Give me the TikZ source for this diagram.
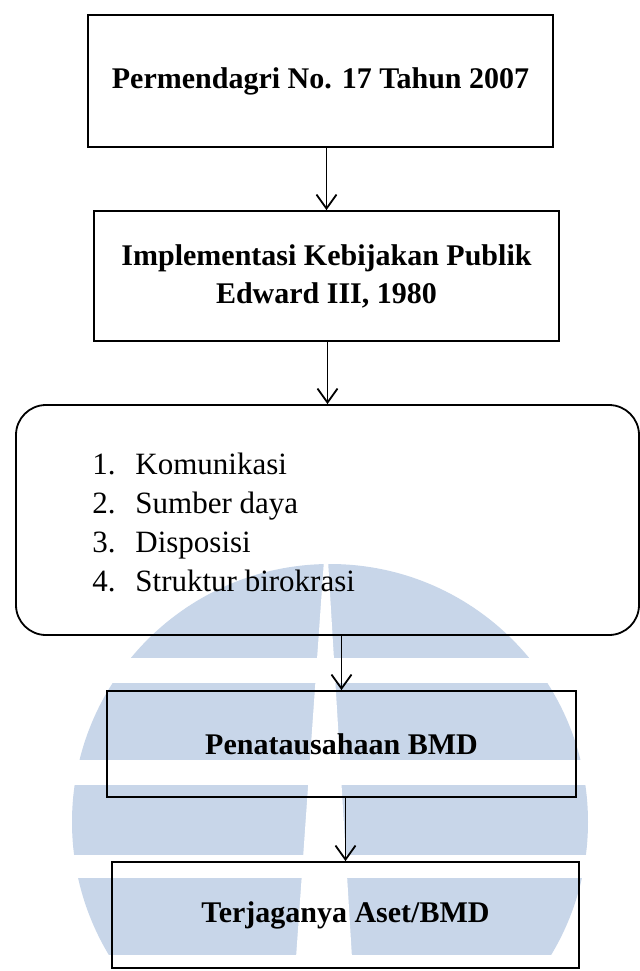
\documentclass[tikz,border=0pt]{standalone}
\usepackage{fontspec}
\setmainfont{Liberation Serif}
\usetikzlibrary{arrows.meta}
\definecolor{markblue}{RGB}{200,214,233}

\begin{document}
\begin{tikzpicture}[x=0.5pt,y=-0.5pt,
        box/.style={draw, line width=0.9pt, inner sep=0pt, align=center,
            font=\fontsize{15}{19}\selectfont\bfseries},
        flow/.style={line width=0.9pt, -{Straight Barb[length=7pt,width=10pt,line width=0.9pt]}}]
    \useasboundingbox (0,0) rectangle (640,971);

    % watermark
    \fill[markblue] (330,822) circle[radius=258];
    \fill[white] (60,658) rectangle (600,683);
    \fill[white] (60,760) rectangle (600,785);
    \fill[white] (60,855) rectangle (600,878);
    \fill[white] (60,955) rectangle (600,1090);
    \fill[white] (324,560) -- (328,560) -- (352,958) -- (296,958) -- cycle;

    % boxes
    \node[box, minimum width=232.5pt, minimum height=66pt] (perm) at (320.5,81) {Permendagri No. 17 Tahun 2007};
    \node[box, minimum width=232.5pt, minimum height=65pt] (impl) at (326.5,276) {Implementasi Kebijakan Publik\\Edward III, 1980};
    \node[draw, line width=0.9pt, rounded corners=15pt, minimum width=311.5pt, minimum height=115pt] (faktor) at (327.5,520) {};
    \node[anchor=west, align=left, inner sep=0pt, font=\fontsize{15.5}{19.5}\selectfont] (items) at (92,522)
        {\makebox[21.5pt][l]{1.}Komunikasi\\
         \makebox[21.5pt][l]{2.}Sumber daya\\
         \makebox[21.5pt][l]{3.}Disposisi\\
         \makebox[21.5pt][l]{4.}Struktur birokrasi};
    \node[box, minimum width=234.5pt, minimum height=53pt] (tata) at (341.5,744) {Penatausahaan BMD};
    \node[box, minimum width=233.5pt, minimum height=53pt] (aset) at (345.5,915) {Terjaganya Aset/BMD};

    % arrows
    \draw[flow] (impl.north |- perm.south) -- (impl.north);
    \draw[flow] (faktor.north |- impl.south) -- (faktor.north);
    \draw[flow] (tata.north |- faktor.south) -- (tata.north);
    \draw[flow] (aset.north |- tata.south) -- (aset.north);
\end{tikzpicture}
\end{document}
